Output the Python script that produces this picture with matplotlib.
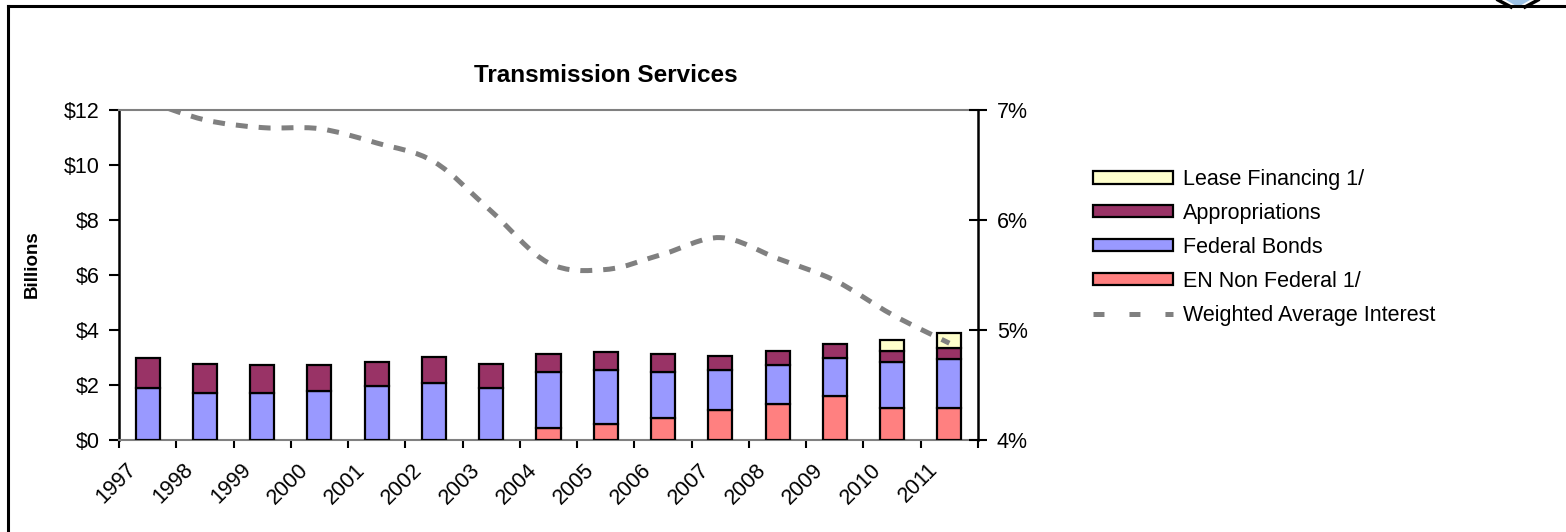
import matplotlib
matplotlib.use("Agg")
import matplotlib.pyplot as plt
import matplotlib.transforms as mtrans
from matplotlib.patches import Patch, PathPatch, Polygon
from matplotlib.lines import Line2D
from matplotlib.path import Path
from matplotlib.ticker import FuncFormatter

plt.rcParams['font.family'] = ['Liberation Sans', 'DejaVu Sans']
plt.rcParams['lines.scale_dashes'] = False  # dash lengths below are in points

years = ['1997', '1998', '1999', '2000', '2001', '2002', '2003', '2004',
         '2005', '2006', '2007', '2008', '2009', '2010', '2011']
en_non_federal = [0, 0, 0, 0, 0, 0, 0, 0.42, 0.60, 0.79, 1.09, 1.30, 1.60, 1.18, 1.18]
federal_bonds = [1.89, 1.70, 1.70, 1.78, 1.95, 2.07, 1.89, 2.05, 1.94, 1.69, 1.45, 1.42, 1.40, 1.64, 1.76]
appropriations = [1.11, 1.07, 1.02, 0.94, 0.88, 0.94, 0.88, 0.66, 0.66, 0.65, 0.52, 0.53, 0.48, 0.43, 0.40]
lease_financing = [0, 0, 0, 0, 0, 0, 0, 0, 0, 0, 0, 0, 0, 0.40, 0.55]
weighted_interest = [7.08, 6.91, 6.84, 6.83, 6.70, 6.53, 6.08, 5.61, 5.55, 5.69, 5.84, 5.65, 5.45, 5.14, 4.88]

W, H = 1566, 532
fig = plt.figure(figsize=(W / 100, H / 100), dpi=100)


def fx(px):
    return px / W


def fy(py):
    return 1 - py / H


ax = fig.add_axes([fx(119), fy(440), fx(978) - fx(119), fy(110) - fy(440)])
ax2 = ax.twinx()

x = list(range(len(years)))
bw = 0.42
bottom = [0] * len(years)
series = [(en_non_federal, '#FF8080', 'EN Non Federal 1/'),
          (federal_bonds, '#9999FF', 'Federal Bonds'),
          (appropriations, '#993366', 'Appropriations'),
          (lease_financing, '#FFFFCC', 'Lease Financing 1/')]
for vals, col, lab in series:
    xs = [xi for xi, v in zip(x, vals) if v > 0]
    hs = [v for v in vals if v > 0]
    bs = [b for b, v in zip(bottom, vals) if v > 0]
    ax.bar(xs, hs, bw, bottom=bs, color=col, edgecolor='black', linewidth=1.6, zorder=3)
    bottom = [b + v for b, v in zip(bottom, vals)]

ax.set_xlim(-0.5, len(years) - 0.5)
ax.set_ylim(0, 12)
ax.set_yticks(range(0, 13, 2))
ax.yaxis.set_major_formatter(FuncFormatter(lambda v, p: '$%d' % v))
ax.tick_params(axis='y', direction='out', length=7, width=1.5, pad=7, labelsize=15.5)

ax.set_xticks(x)
ax.set_xticklabels(years, rotation=45, ha='right', rotation_mode='anchor', fontsize=15.5)
ax.set_xticks([i - 0.5 for i in range(len(years) + 1)], minor=True)
ax.tick_params(axis='x', which='major', length=0, pad=14)
ax.tick_params(axis='x', which='minor', direction='out', length=6, width=1.5)
off = mtrans.ScaledTranslation(-22 / 100, 0, fig.dpi_scale_trans)
for lbl in ax.get_xticklabels():
    lbl.set_transform(lbl.get_transform() + off)

for s in ['top', 'bottom']:
    ax.spines[s].set_color('#808080')
    ax.spines[s].set_linewidth(1.5)
ax.spines['left'].set_linewidth(1.8)
ax.spines['right'].set_visible(False)

# smoothed interest line (Catmull-Rom drawn as cubic Bezier path)
pts = list(zip(x, weighted_interest))
verts = [pts[0]]
codes = [Path.MOVETO]
for i in range(len(pts) - 1):
    p0 = pts[i - 1] if i > 0 else pts[i]
    p1 = pts[i]
    p2 = pts[i + 1]
    p3 = pts[i + 2] if i + 2 < len(pts) else pts[i + 1]
    c1 = (p1[0] + (p2[0] - p0[0]) / 6, p1[1] + (p2[1] - p0[1]) / 6)
    c2 = (p2[0] - (p3[0] - p1[0]) / 6, p2[1] - (p3[1] - p1[1]) / 6)
    verts += [c1, c2, p2]
    codes += [Path.CURVE4] * 3
ax2.add_patch(PathPatch(Path(verts, codes), fill=False, edgecolor='#808080',
                        linewidth=3.6, linestyle=(0, (8.6, 7.9)), capstyle='butt',
                        zorder=4))
ax2.set_ylim(4, 7)
ax2.set_yticks([4, 5, 6, 7])
ax2.yaxis.set_major_formatter(FuncFormatter(lambda v, p: '%d%%' % v))
ax2.tick_params(axis='y', direction='inout', length=13, width=1.5, pad=7, labelsize=15.5)
for s in ['top', 'bottom', 'left']:
    ax2.spines[s].set_visible(False)
ax2.spines['right'].set_linewidth(1.8)

fig.text(fx(606), fy(76), 'Transmission Services', ha='center', va='center',
         fontsize=17.5, fontweight='bold')
fig.text(fx(32), fy(264), 'Billions', ha='center', va='center', rotation=90,
         fontsize=13.5, fontweight='bold')

handles = [Patch(facecolor=c, edgecolor='black', linewidth=1.6) for _, c, _ in series[::-1]]
labels = [lab for _, _, lab in series[::-1]]
handles.append(Line2D([0], [0], color='#808080', linewidth=3.6, linestyle=(0, (7.9, 18.0)),
                      solid_capstyle='butt', dash_capstyle='butt'))
labels.append('Weighted Average Interest')
fig.legend(handles, labels, loc='upper left', bbox_to_anchor=(fx(1093), fy(169)),
           frameon=False, fontsize=15.5, handlelength=3.72, handleheight=0.51,
           handletextpad=0.45, labelspacing=0.6, borderpad=0, borderaxespad=0)

# outer frame and corner logo
fig.add_artist(Line2D([fx(8), fx(8)], [fy(6), 0], color='black', linewidth=2.2))
fig.add_artist(Line2D([fx(8), 1], [fy(6), fy(6)], color='black', linewidth=2.2))
fig.add_artist(Polygon([(fx(1506), 1), (fx(1530), 1), (fx(1518), fy(7))],
                       closed=True, facecolor='#9DC3E6', edgecolor='none'))
fig.add_artist(Line2D([fx(1498), fx(1511)], [1, fy(7)], color='black', linewidth=2.5))
fig.add_artist(Line2D([fx(1538), fx(1525)], [1, fy(7)], color='black', linewidth=2.5))

fig.savefig('out.png', dpi=100)
